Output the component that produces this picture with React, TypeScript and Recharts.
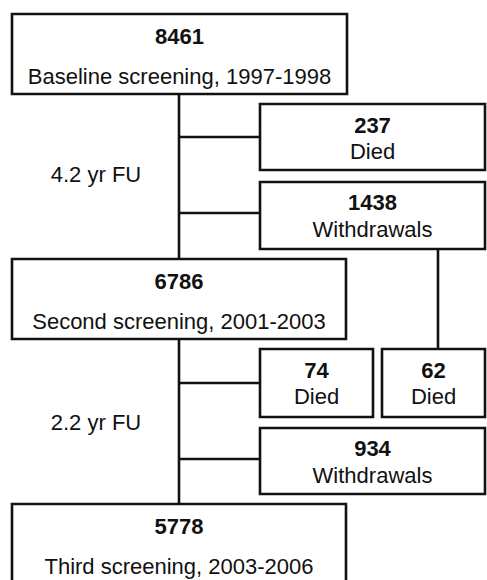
import React from 'react';
import { ComposedChart, XAxis, YAxis, ReferenceArea, ReferenceLine, Label } from 'recharts';

// ---- values ----
const screeningCounts = [8461, 6786, 5778];
const screeningLabels = ['Baseline screening, 1997-1998', 'Second screening, 2001-2003', 'Third screening, 2003-2006'];
const diedCounts = [237, 74, 62];
const diedLabels = ['Died', 'Died', 'Died'];
const withdrawalCounts = [1438, 934];
const withdrawalLabels = ['Withdrawals', 'Withdrawals'];
const followUpLabels = ['4.2 yr FU', '2.2 yr FU'];

// ---- layout (diagram units = pixels) ----
const W = 487;
const H = 580;
const screeningBoxes = [
  { x1: 12, x2: 347, y1: 14, y2: 94 },
  { x1: 12, x2: 346, y1: 259, y2: 339 },
  { x1: 12, x2: 346, y1: 504, y2: 600 },
];
const diedBoxes = [
  { x1: 260, x2: 485, y1: 104, y2: 170 },
  { x1: 260, x2: 373, y1: 349, y2: 417 },
  { x1: 382, x2: 485, y1: 349, y2: 417 },
];
const withdrawalBoxes = [
  { x1: 260, x2: 485, y1: 182, y2: 249 },
  { x1: 260, x2: 485, y1: 428, y2: 494 },
];
const trunkX = 179;
const connectors = [
  // trunks
  [{ x: trunkX, y: 94 }, { x: trunkX, y: 259 }],
  [{ x: trunkX, y: 339 }, { x: trunkX, y: 504 }],
  // branches
  [{ x: trunkX, y: 137 }, { x: 260, y: 137 }],
  [{ x: trunkX, y: 213 }, { x: 260, y: 213 }],
  [{ x: trunkX, y: 383 }, { x: 260, y: 383 }],
  [{ x: trunkX, y: 459 }, { x: 260, y: 459 }],
  // withdrawals -> 62 died
  [{ x: 438, y: 249 }, { x: 438, y: 349 }],
];
const fuPos = [
  { x: 96, y: 182 },
  { x: 96, y: 430 },
];

const FONT = '"Liberation Sans", Arial, sans-serif';
const FS = 22;
const STROKE = '#111';
const SW = 2.6;

const makeBoxLabel = (num: number, text: string, numOff: number, textOff: number) => (props: any) => {
  const vb = props.viewBox || {};
  const cx = vb.x + vb.width / 2;
  return (
    <g>
      <text x={cx} y={vb.y + numOff} textAnchor="middle" fontFamily={FONT} fontSize={FS} fontWeight="bold" fill="#111">
        {num}
      </text>
      <text x={cx} y={vb.y + textOff} textAnchor="middle" fontFamily={FONT} fontSize={FS} fill="#111">
        {text}
      </text>
    </g>
  );
};

export default function App() {
  return (
    <div style={{ position: 'absolute', left: 0, top: 0, width: W, height: H, background: '#fff' }}>
      <ComposedChart width={W} height={H} data={[]} margin={{ top: 0, right: 0, bottom: 0, left: 0 }}>
        <XAxis type="number" dataKey="x" domain={[0, W]} hide allowDataOverflow />
        <YAxis type="number" dataKey="y" domain={[0, H]} reversed hide allowDataOverflow />
        {connectors.map((seg, i) => (
          <ReferenceLine key={'c' + i} segment={seg} stroke={STROKE} strokeWidth={SW} ifOverflow="visible" />
        ))}
        {screeningBoxes.map((b, i) => (
          <ReferenceArea key={'s' + i} {...b} fill="#fff" fillOpacity={1} stroke={STROKE} strokeWidth={SW} ifOverflow="visible"
            label={makeBoxLabel(screeningCounts[i], screeningLabels[i], 29.5, 69.5)} />
        ))}
        {diedBoxes.map((b, i) => (
          <ReferenceArea key={'d' + i} {...b} fill="#fff" fillOpacity={1} stroke={STROKE} strokeWidth={SW} ifOverflow="visible"
            label={makeBoxLabel(diedCounts[i], diedLabels[i], 29, 55)} />
        ))}
        {withdrawalBoxes.map((b, i) => (
          <ReferenceArea key={'w' + i} {...b} fill="#fff" fillOpacity={1} stroke={STROKE} strokeWidth={SW} ifOverflow="visible"
            label={makeBoxLabel(withdrawalCounts[i], withdrawalLabels[i], 28, 54.5)} />
        ))}
        {fuPos.map((p, i) => (
          <ReferenceLine key={'f' + i} segment={[{ x: p.x - 1, y: p.y }, { x: p.x + 1, y: p.y }]} stroke="none" ifOverflow="visible">
            <Label
              content={(props: any) => {
                const vb = props.viewBox || {};
                const cx = vb.x + (vb.width || 0) / 2;
                return (
                  <text x={cx} y={vb.y} textAnchor="middle" fontFamily={FONT} fontSize={FS} fill="#111">
                    {followUpLabels[i]}
                  </text>
                );
              }}
            />
          </ReferenceLine>
        ))}
      </ComposedChart>
    </div>
  );
}
